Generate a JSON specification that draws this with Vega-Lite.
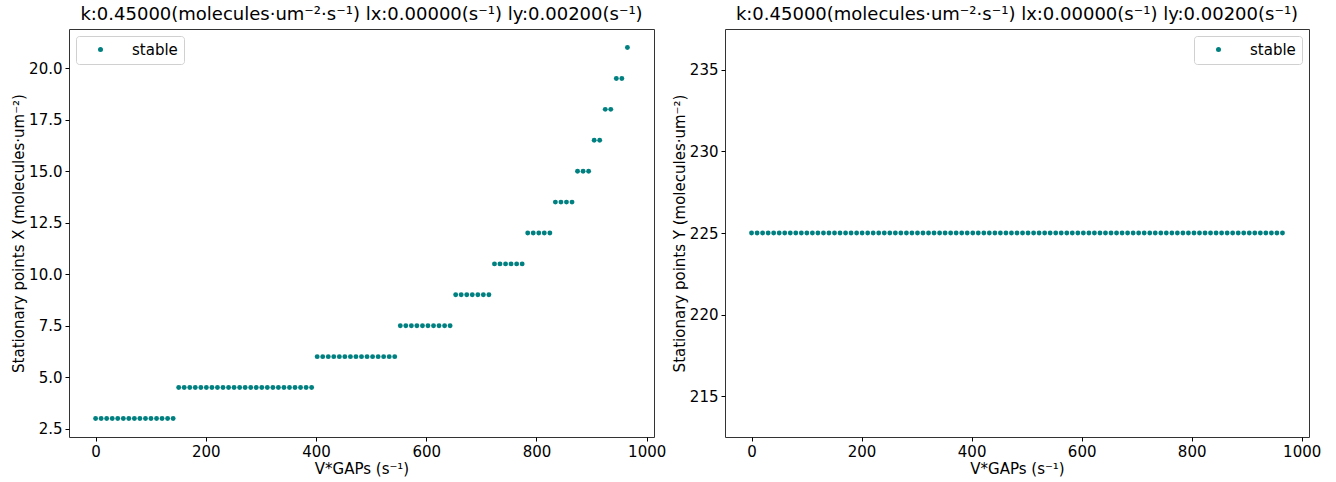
{
  "$schema": "https://vega.github.io/schema/vega-lite/v6.json",
  "background": "white",
  "padding": {"left": 11, "top": 5, "right": 10, "bottom": 2},
  "config": {
    "font": "DejaVu Sans",
    "view": {"stroke": "#333333", "strokeWidth": 1},
    "axis": {"grid": false, "domain": false, "tickColor": "#000000", "tickSize": 4, "labelColor": "#000000", "labelFontSize": 15, "titleFontSize": 15, "titleFontWeight": "normal", "titleColor": "#000000", "labelPadding": 3, "titlePadding": 2},
    "title": {"fontSize": 18, "fontWeight": "normal", "color": "#000000", "offset": 5, "anchor": "middle", "frame": "group"},
    "legend": {"fillColor": "white", "strokeColor": "#d0d0d0", "cornerRadius": 3, "padding": 6, "offset": 7, "symbolType": "circle", "symbolSize": 25, "symbolOffset": 11, "labelOffset": 24, "labelFontSize": 15, "labelColor": "#000000", "symbolStrokeWidth": 0, "title": null},
    "concat": {"spacing": 4}
  },
  "datasets": {
    "d": [
      {"v": 0, "X": 3, "Y": 225, "s": "stable"},
      {"v": 10.1, "X": 3, "Y": 225, "s": "stable"},
      {"v": 20.1, "X": 3, "Y": 225, "s": "stable"},
      {"v": 30.2, "X": 3, "Y": 225, "s": "stable"},
      {"v": 40.2, "X": 3, "Y": 225, "s": "stable"},
      {"v": 50.3, "X": 3, "Y": 225, "s": "stable"},
      {"v": 60.3, "X": 3, "Y": 225, "s": "stable"},
      {"v": 70.4, "X": 3, "Y": 225, "s": "stable"},
      {"v": 80.4, "X": 3, "Y": 225, "s": "stable"},
      {"v": 90.5, "X": 3, "Y": 225, "s": "stable"},
      {"v": 100.5, "X": 3, "Y": 225, "s": "stable"},
      {"v": 110.6, "X": 3, "Y": 225, "s": "stable"},
      {"v": 120.6, "X": 3, "Y": 225, "s": "stable"},
      {"v": 130.7, "X": 3, "Y": 225, "s": "stable"},
      {"v": 140.7, "X": 3, "Y": 225, "s": "stable"},
      {"v": 150.8, "X": 4.5, "Y": 225, "s": "stable"},
      {"v": 160.8, "X": 4.5, "Y": 225, "s": "stable"},
      {"v": 170.9, "X": 4.5, "Y": 225, "s": "stable"},
      {"v": 180.9, "X": 4.5, "Y": 225, "s": "stable"},
      {"v": 191, "X": 4.5, "Y": 225, "s": "stable"},
      {"v": 201, "X": 4.5, "Y": 225, "s": "stable"},
      {"v": 211.1, "X": 4.5, "Y": 225, "s": "stable"},
      {"v": 221.1, "X": 4.5, "Y": 225, "s": "stable"},
      {"v": 231.2, "X": 4.5, "Y": 225, "s": "stable"},
      {"v": 241.3, "X": 4.5, "Y": 225, "s": "stable"},
      {"v": 251.3, "X": 4.5, "Y": 225, "s": "stable"},
      {"v": 261.4, "X": 4.5, "Y": 225, "s": "stable"},
      {"v": 271.4, "X": 4.5, "Y": 225, "s": "stable"},
      {"v": 281.5, "X": 4.5, "Y": 225, "s": "stable"},
      {"v": 291.5, "X": 4.5, "Y": 225, "s": "stable"},
      {"v": 301.6, "X": 4.5, "Y": 225, "s": "stable"},
      {"v": 311.6, "X": 4.5, "Y": 225, "s": "stable"},
      {"v": 321.7, "X": 4.5, "Y": 225, "s": "stable"},
      {"v": 331.7, "X": 4.5, "Y": 225, "s": "stable"},
      {"v": 341.8, "X": 4.5, "Y": 225, "s": "stable"},
      {"v": 351.8, "X": 4.5, "Y": 225, "s": "stable"},
      {"v": 361.9, "X": 4.5, "Y": 225, "s": "stable"},
      {"v": 371.9, "X": 4.5, "Y": 225, "s": "stable"},
      {"v": 382, "X": 4.5, "Y": 225, "s": "stable"},
      {"v": 392, "X": 4.5, "Y": 225, "s": "stable"},
      {"v": 402.1, "X": 6, "Y": 225, "s": "stable"},
      {"v": 412.1, "X": 6, "Y": 225, "s": "stable"},
      {"v": 422.2, "X": 6, "Y": 225, "s": "stable"},
      {"v": 432.2, "X": 6, "Y": 225, "s": "stable"},
      {"v": 442.3, "X": 6, "Y": 225, "s": "stable"},
      {"v": 452.3, "X": 6, "Y": 225, "s": "stable"},
      {"v": 462.4, "X": 6, "Y": 225, "s": "stable"},
      {"v": 472.4, "X": 6, "Y": 225, "s": "stable"},
      {"v": 482.5, "X": 6, "Y": 225, "s": "stable"},
      {"v": 492.6, "X": 6, "Y": 225, "s": "stable"},
      {"v": 502.6, "X": 6, "Y": 225, "s": "stable"},
      {"v": 512.7, "X": 6, "Y": 225, "s": "stable"},
      {"v": 522.7, "X": 6, "Y": 225, "s": "stable"},
      {"v": 532.8, "X": 6, "Y": 225, "s": "stable"},
      {"v": 542.8, "X": 6, "Y": 225, "s": "stable"},
      {"v": 552.9, "X": 7.5, "Y": 225, "s": "stable"},
      {"v": 562.9, "X": 7.5, "Y": 225, "s": "stable"},
      {"v": 573, "X": 7.5, "Y": 225, "s": "stable"},
      {"v": 583, "X": 7.5, "Y": 225, "s": "stable"},
      {"v": 593.1, "X": 7.5, "Y": 225, "s": "stable"},
      {"v": 603.1, "X": 7.5, "Y": 225, "s": "stable"},
      {"v": 613.2, "X": 7.5, "Y": 225, "s": "stable"},
      {"v": 623.2, "X": 7.5, "Y": 225, "s": "stable"},
      {"v": 633.3, "X": 7.5, "Y": 225, "s": "stable"},
      {"v": 643.3, "X": 7.5, "Y": 225, "s": "stable"},
      {"v": 653.4, "X": 9, "Y": 225, "s": "stable"},
      {"v": 663.4, "X": 9, "Y": 225, "s": "stable"},
      {"v": 673.5, "X": 9, "Y": 225, "s": "stable"},
      {"v": 683.5, "X": 9, "Y": 225, "s": "stable"},
      {"v": 693.6, "X": 9, "Y": 225, "s": "stable"},
      {"v": 703.6, "X": 9, "Y": 225, "s": "stable"},
      {"v": 713.7, "X": 9, "Y": 225, "s": "stable"},
      {"v": 723.8, "X": 10.5, "Y": 225, "s": "stable"},
      {"v": 733.8, "X": 10.5, "Y": 225, "s": "stable"},
      {"v": 743.9, "X": 10.5, "Y": 225, "s": "stable"},
      {"v": 753.9, "X": 10.5, "Y": 225, "s": "stable"},
      {"v": 764, "X": 10.5, "Y": 225, "s": "stable"},
      {"v": 774, "X": 10.5, "Y": 225, "s": "stable"},
      {"v": 784.1, "X": 12, "Y": 225, "s": "stable"},
      {"v": 794.1, "X": 12, "Y": 225, "s": "stable"},
      {"v": 804.2, "X": 12, "Y": 225, "s": "stable"},
      {"v": 814.2, "X": 12, "Y": 225, "s": "stable"},
      {"v": 824.3, "X": 12, "Y": 225, "s": "stable"},
      {"v": 834.3, "X": 13.5, "Y": 225, "s": "stable"},
      {"v": 844.4, "X": 13.5, "Y": 225, "s": "stable"},
      {"v": 854.4, "X": 13.5, "Y": 225, "s": "stable"},
      {"v": 864.5, "X": 13.5, "Y": 225, "s": "stable"},
      {"v": 874.5, "X": 15, "Y": 225, "s": "stable"},
      {"v": 884.6, "X": 15, "Y": 225, "s": "stable"},
      {"v": 894.6, "X": 15, "Y": 225, "s": "stable"},
      {"v": 904.7, "X": 16.5, "Y": 225, "s": "stable"},
      {"v": 914.7, "X": 16.5, "Y": 225, "s": "stable"},
      {"v": 924.8, "X": 18, "Y": 225, "s": "stable"},
      {"v": 934.8, "X": 18, "Y": 225, "s": "stable"},
      {"v": 944.9, "X": 19.5, "Y": 225, "s": "stable"},
      {"v": 954.9, "X": 19.5, "Y": 225, "s": "stable"},
      {"v": 965, "X": 21, "Y": 225, "s": "stable"}
    ]
  },
  "hconcat": [
    {
      "width": 585,
      "height": 408,
      "title": {"text": "k:0.45000(molecules·um⁻²·s⁻¹) lx:0.00000(s⁻¹) ly:0.00200(s⁻¹)"},
      "data": {"name": "d"},
      "mark": {"type": "point", "filled": true, "size": 24, "opacity": 1},
      "encoding": {
        "x": {"field": "v", "type": "quantitative", "scale": {"domain": [-48.25, 1013.25], "nice": false, "zero": false}, "axis": {"values": [0, 200, 400, 600, 800, 1000], "format": "d", "title": "V*GAPs (s⁻¹)"}},
        "y": {"field": "X", "type": "quantitative", "scale": {"domain": [2.1, 21.9], "nice": false, "zero": false}, "axis": {"values": [2.5, 5, 7.5, 10, 12.5, 15, 17.5, 20], "format": ".1f", "title": "Stationary points X (molecules·um⁻²)"}},
        "color": {"field": "s", "type": "nominal", "scale": {"range": ["#008080"]}, "legend": {"orient": "top-left"}}
      }
    },
    {
      "width": 584,
      "height": 408,
      "title": {"text": "k:0.45000(molecules·um⁻²·s⁻¹) lx:0.00000(s⁻¹) ly:0.00200(s⁻¹)"},
      "data": {"name": "d"},
      "mark": {"type": "point", "filled": true, "size": 24, "opacity": 1},
      "encoding": {
        "x": {"field": "v", "type": "quantitative", "scale": {"domain": [-48.25, 1013.25], "nice": false, "zero": false}, "axis": {"values": [0, 200, 400, 600, 800, 1000], "format": "d", "title": "V*GAPs (s⁻¹)"}},
        "y": {"field": "Y", "type": "quantitative", "scale": {"domain": [212.5, 237.5], "nice": false, "zero": false}, "axis": {"values": [215, 220, 225, 230, 235], "title": "Stationary points Y (molecules·um⁻²)"}},
        "color": {"field": "s", "type": "nominal", "scale": {"range": ["#008080"]}, "legend": {"orient": "top-right"}}
      }
    }
  ],
  "resolve": {"scale": {"color": "independent"}, "legend": {"color": "independent"}}
}
